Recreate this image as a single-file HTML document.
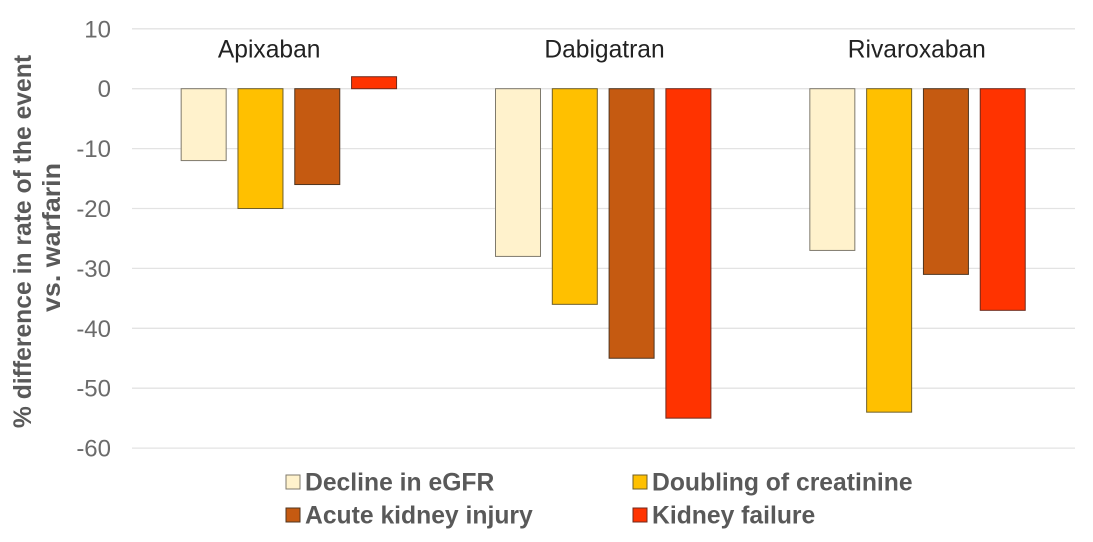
<!DOCTYPE html>
<html lang="en">
<head>
<meta charset="utf-8">
<title>Kidney outcomes vs. warfarin</title>
<style>
html,body{margin:0;padding:0;background:#fff;width:1093px;height:542px;overflow:hidden}
svg{display:block;font-family:"Liberation Sans",sans-serif;filter:blur(0.35px)}
</style>
</head>
<body>
<svg id="chart" width="1093" height="542" viewBox="0 0 1093 542" xmlns="http://www.w3.org/2000/svg">
<text transform="translate(31 241.5) rotate(-90)" text-anchor="middle" font-size="24.7" font-weight="700" fill="#595959">% difference in rate of the event</text>
<text transform="translate(60 237.5) rotate(-90)" text-anchor="middle" font-size="24.7" font-weight="700" fill="#595959" textLength="149" lengthAdjust="spacingAndGlyphs">vs. warfarin</text>
</svg>
<script>
const categories = ['Apixaban', 'Dabigatran', 'Rivaroxaban'];
const seriesNames = ['Decline in eGFR', 'Doubling of creatinine', 'Acute kidney injury', 'Kidney failure'];
const declineInEgfr = [-12, -28, -27];
const doublingOfCreatinine = [-20, -36, -54];
const acuteKidneyInjury = [-16, -45, -31];
const kidneyFailure = [2, -55, -37];
const tickLabels = [10, 0, -10, -20, -30, -40, -50, -60];

const allSeries = [declineInEgfr, doublingOfCreatinine, acuteKidneyInjury, kidneyFailure];
const colors = ['#FFF2CC', '#FFC000', '#C55A11', '#FF3300'];
const strokes = ['#7f7a6c', '#6f5f28', '#4f3520', '#6f2a1c'];
const labelOffsets = [-20, 1, -1];
const svg = document.getElementById('chart');
const NS = 'http://www.w3.org/2000/svg';
const plotLeft = 132, plotRight = 1075, zeroY = 88.7, unit = 5.99;
const catW = (plotRight - plotLeft) / categories.length;
const barW = 45, barStep = 56.8;
function yScale(v) { return zeroY - v * unit; }
function catCenter(i) { return plotLeft + catW * (i + 0.5); }
function make(tag, attrs) {
  const el = document.createElementNS(NS, tag);
  for (const k in attrs) el.setAttribute(k, attrs[k]);
  svg.appendChild(el);
  return el;
}

tickLabels.forEach(function (t) {
  const line = make('line', { x1: plotLeft, x2: plotRight, y1: yScale(t), y2: yScale(t), stroke: '#e3e3e3', 'stroke-width': 1.3 });
  
  
  const label = make('text', { x: 111, y: yScale(t) + 8.5, 'text-anchor': 'end', 'font-size': 24, fill: '#6b6b6b' });
  label.textContent = t;
  
  
});

categories.forEach(function (c, i) {
  const label = make('text', { x: catCenter(i) + labelOffsets[i], y: 57.5, 'text-anchor': 'middle', 'font-size': 24.6, fill: '#222' });
  label.textContent = c;
  
  
  allSeries.forEach(function (s, j) {
    const v = s[i];
    const x = catCenter(i) + (j - 1.5) * barStep - barW / 2 - 0.3;
    const top = Math.min(yScale(v), yScale(0));
    const h = Math.abs(yScale(v) - yScale(0));
    const bar = make('rect', { x: x, y: top, width: barW, height: h, fill: colors[j], stroke: strokes[j], 'stroke-width': 1 });
    
    
  });
});

const legendX = [286, 633];
const legendY = [482, 515];
seriesNames.forEach(function (n, j) {
  const col = j % 2, row = Math.floor(j / 2);
  const swatch = make('rect', { x: legendX[col], y: legendY[row] - 7, width: 14, height: 14, fill: colors[j], stroke: strokes[j], 'stroke-width': 1 });
  
  
  const label = make('text', { x: legendX[col] + 19, y: legendY[row] + 8.5, 'font-size': 24.7, 'font-weight': 700, fill: '#595959' });
  label.textContent = n;
  
  
});
</script>
</body>
</html>
